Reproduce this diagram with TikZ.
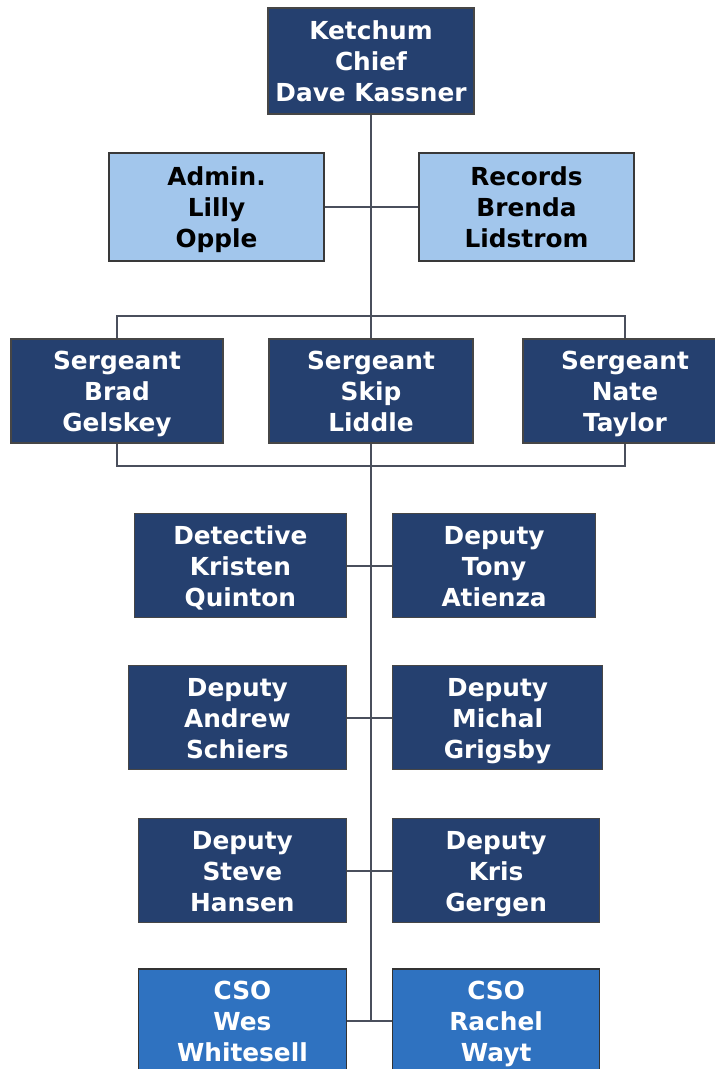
\documentclass[tikz,border=0pt]{standalone}
\usepackage{fontspec}
\setmainfont{DejaVu Sans}
\usepackage{tikz}
\usetikzlibrary{calc,positioning}
\definecolor{navybox}{HTML}{25406F}
\definecolor{paleblue}{HTML}{A2C6EC}
\definecolor{csoblue}{HTML}{2F72C0}
\definecolor{linkgray}{HTML}{4A4F5C}

\begin{document}
\begin{tikzpicture}[x=0.5pt,y=-0.5pt,
    every node/.style={font=\fontsize{12.4}{15.5}\selectfont\bfseries, align=center, inner sep=0pt, text height=41pt, text depth=0.4pt},
    darkbox/.style={rectangle,draw=gray!55!black,line width=0.6pt,fill=navybox,text=white,minimum height=52pt},
    palebox/.style={rectangle,draw=gray!45!black,line width=0.6pt,fill=paleblue,text=black,minimum height=54pt},
    csobox/.style={rectangle,draw=gray!40!black,line width=0.6pt,fill=csoblue,text=white,minimum height=52pt},
    link/.style={draw=linkgray,line width=1pt}]
    \useasboundingbox (0,0) rectangle (714,1069);

    % chief and office staff
    \node[darkbox,minimum width=103pt,minimum height=53pt] (chief) at (371,61) {Ketchum\\Chief\\Dave Kassner};
    \node[palebox,minimum width=107.5pt] (admin) at (216.5,207) {Admin.\\Lilly\\Opple};
    \node[palebox,minimum width=107.5pt] (records) at (526.5,207) {Records\\Brenda\\Lidstrom};

    % sergeants
    \node[darkbox,minimum width=106pt] (sgtbrad) at (117,391) {Sergeant\\Brad\\Gelskey};
    \node[darkbox,minimum width=102pt] (sgtskip) at (371,391) {Sergeant\\Skip\\Liddle};
    \node[darkbox,minimum width=102pt] (sgtnate) at (625,391) {Sergeant\\Nate\\Taylor};

    % detective and deputies (left column ends at 347, right starts at 392)
    \node[darkbox,minimum width=106pt,anchor=east] (detkristen) at (347,565.5) {Detective\\Kristen\\Quinton};
    \node[darkbox,minimum width=101.5pt,anchor=west] (deptony) at (392,565.5) {Deputy\\Tony\\Atienza};
    \node[darkbox,minimum width=109pt,anchor=east] (depandrew) at (347,717.5) {Deputy\\Andrew\\Schiers};
    \node[darkbox,minimum width=105pt,anchor=west] (depmichal) at (392,717.5) {Deputy\\Michal\\Grigsby};
    \node[darkbox,minimum width=104pt,anchor=east] (depsteve) at (347,870.5) {Deputy\\Steve\\Hansen};
    \node[darkbox,minimum width=103.5pt,anchor=west] (depkris) at (392,870.5) {Deputy\\Kris\\Gergen};

    % community service officers
    \node[csobox,minimum width=104pt,anchor=east] (csowes) at (347,1021) {CSO\\Wes\\Whitesell};
    \node[csobox,minimum width=103.5pt,anchor=west] (csorachel) at (392,1021) {CSO\\Rachel\\Wayt};

    % bends of the lines
    \coordinate (bracktop) at (371,316);
    \coordinate (brackbot) at (371,466);
    \coordinate (trunkend) at (371,1021);

    % connections
    \draw[link] (chief.south) -- (sgtskip.north);
    \draw[link] (admin.east) -- (records.west);
    \draw[link] (sgtbrad.north) |- (bracktop) -| (sgtnate.north);
    \draw[link] (sgtbrad.south) |- (brackbot) -| (sgtnate.south);
    \draw[link] (sgtskip.south) -- (trunkend);
    \draw[link] (detkristen.east) -- (deptony.west);
    \draw[link] (depandrew.east) -- (depmichal.west);
    \draw[link] (depsteve.east) -- (depkris.west);
    \draw[link] (csowes.east) -- (csorachel.west);
\end{tikzpicture}
\end{document}
